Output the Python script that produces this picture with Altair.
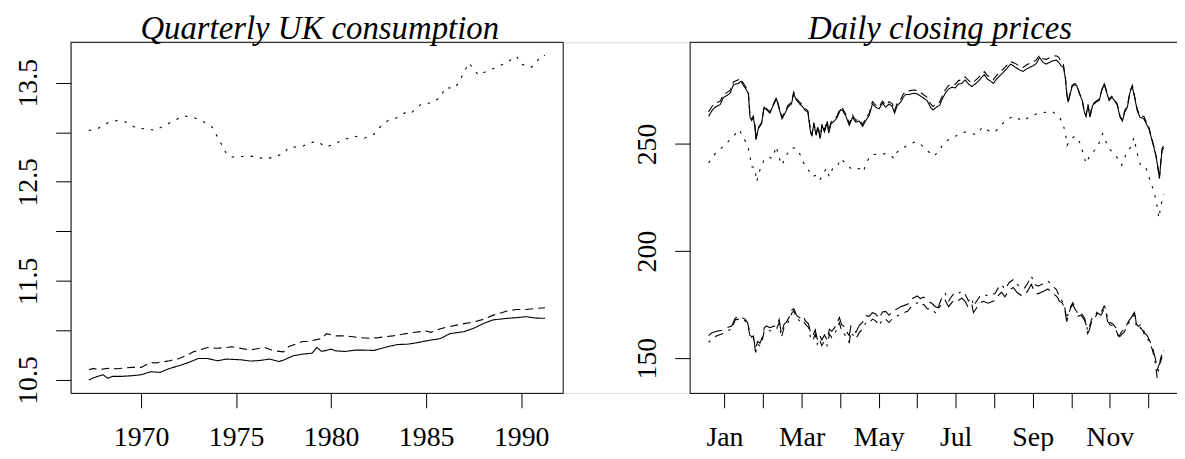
import altair as alt
import pandas as pd

# ---------------- Quarterly UK consumption (left panel) ----------------
uk_solid_years = [1967.25, 1967.5, 1968.0, 1968.25, 1968.5, 1969.0, 1969.5, 1970.0, 1970.5, 1971.0,
                  1971.5, 1972.0, 1972.5, 1973.0, 1973.5, 1974.0, 1974.5, 1975.25, 1975.75, 1976.25,
                  1976.75, 1977.25, 1977.5, 1978.0, 1978.5, 1979.0, 1979.25, 1979.5, 1980.0, 1980.25,
                  1980.75, 1981.25, 1981.75, 1982.25, 1983.0, 1983.5, 1984.0, 1984.5, 1985.0, 1985.75,
                  1986.25, 1987.0, 1987.5, 1988.0, 1988.5, 1989.25, 1989.75, 1990.25, 1990.75, 1991.25]
uk_solid = [10.500, 10.523, 10.553, 10.517, 10.537, 10.537, 10.543, 10.553, 10.583, 10.577,
            10.617, 10.644, 10.677, 10.717, 10.717, 10.694, 10.711, 10.704, 10.691, 10.697,
            10.711, 10.687, 10.701, 10.744, 10.761, 10.771, 10.828, 10.788, 10.811, 10.794,
            10.788, 10.801, 10.801, 10.798, 10.838, 10.858, 10.861, 10.875, 10.895, 10.918,
            10.968, 10.988, 11.022, 11.069, 11.106, 11.122, 11.129, 11.139, 11.125, 11.122]

uk_dashed_years = [1967.25, 1967.5, 1967.75, 1968.25, 1968.75, 1969.5, 1970.0, 1970.5, 1970.75, 1971.5,
                   1972.0, 1972.5, 1972.75, 1973.5, 1974.0, 1974.5, 1974.75, 1975.5, 1975.75, 1976.5,
                   1977.0, 1977.5, 1977.75, 1978.5, 1978.75, 1979.5, 1979.75, 1980.25, 1980.75, 1981.5,
                   1982.0, 1982.5, 1983.25, 1983.75, 1984.25, 1985.0, 1985.25, 1985.75, 1986.25, 1987.0,
                   1987.5, 1988.0, 1988.5, 1989.25, 1989.75, 1990.25, 1990.75, 1991.25]
uk_dashed = [10.604, 10.617, 10.604, 10.617, 10.614, 10.627, 10.627, 10.677, 10.671, 10.694,
             10.717, 10.758, 10.784, 10.828, 10.821, 10.828, 10.835, 10.811, 10.804, 10.828,
             10.794, 10.784, 10.835, 10.888, 10.888, 10.918, 10.968, 10.945, 10.945, 10.928,
             10.921, 10.928, 10.945, 10.961, 10.978, 10.995, 10.981, 11.018, 11.039, 11.069,
             11.085, 11.112, 11.152, 11.196, 11.212, 11.212, 11.222, 11.229]

uk_dotted_years = [1967.25, 1967.75, 1968.25, 1968.75, 1969.25, 1969.75, 1970.25, 1970.75, 1971.25, 1971.75,
                   1972.25, 1972.75, 1973.25, 1973.75, 1974.0, 1974.25, 1974.5, 1974.75, 1975.5, 1976.0,
                   1976.5, 1977.0, 1977.5, 1977.75, 1978.5, 1978.75, 1979.25, 1979.75, 1980.25, 1980.75,
                   1981.25, 1981.75, 1982.25, 1982.5, 1983.0, 1983.5, 1984.0, 1984.25, 1984.75, 1985.25,
                   1985.75, 1986.0, 1986.5, 1986.75, 1987.0, 1987.25, 1987.5, 1987.75, 1988.25, 1988.75,
                   1989.25, 1989.75, 1990.0, 1990.5, 1990.75, 1991.0, 1991.25]
uk_dotted = [13.018, 13.040, 13.096, 13.120, 13.100, 13.040, 13.035, 13.020, 13.070, 13.120,
             13.165, 13.150, 13.110, 13.050, 12.960, 12.870, 12.780, 12.750, 12.757, 12.757,
             12.730, 12.750, 12.785, 12.845, 12.858, 12.885, 12.908, 12.850, 12.890, 12.930,
             12.960, 12.940, 12.980, 13.040, 13.120, 13.150, 13.210, 13.200, 13.286, 13.296,
             13.350, 13.450, 13.443, 13.513, 13.610, 13.700, 13.637, 13.577, 13.620, 13.660,
             13.704, 13.768, 13.688, 13.653, 13.688, 13.770, 13.777]

uk_x_ticks = [1970, 1975, 1980, 1985, 1990]
uk_y_ticks = [10.5, 11.0, 11.5, 12.0, 12.5, 13.0, 13.5]
uk_y_labelled = [10.5, 11.5, 12.5, 13.5]
uk_x_domain = [1966.29, 1992.21]
uk_y_domain = [10.37, 13.908]
uk_title_x = 1979.4

# ---------------- Daily closing prices (right panel) ----------------
price_ab_days = [2.7, 5.3, 7.9, 11.8, 14.4, 17.1, 19.7, 22.3, 26.2, 28.3, 30.1, 32.2, 34.1, 35.4, 36.7,
                 38.0, 39.3, 40.1, 41.9, 44.5, 46.6, 48.4, 51.1, 53.7, 56.3, 58.4, 60.7, 62.8, 65.4, 68.1,
                 69.9, 72.0, 74.6, 77.2, 79.0, 81.1, 83.2, 84.3, 85.8, 87.7, 89.0, 90.8, 92.4, 94.2, 96.3,
                 97.6, 99.4, 102.0, 104.1, 106.8, 108.6, 111.2, 113.8, 116.4, 119.0, 121.7, 124.3, 126.9,
                 129.5, 132.1, 134.7, 137.4, 140.0, 142.6, 145.2, 147.8, 149.6, 151.7, 154.4, 156.4, 158.3,
                 160.9, 164.8, 167.4, 170.6,
                 175.3, 177.9, 180.0, 182.6, 185.2, 187.0, 189.6, 192.3, 194.9, 197.5,
                 200.1, 202.7, 205.3, 208.0, 210.6, 213.2, 215.8, 218.4, 220.5, 222.9,
                 224.9, 227.6, 230.2, 232.8, 235.4, 238.0, 241.2, 243.3, 245.9, 248.5,
                 251.1, 253.7, 256.3, 259.0, 261.6, 264.2, 266.8, 269.4, 272.0, 274.6,
                 277.3, 279.3, 281.2, 283.0, 284.6, 285.6, 286.7, 287.7, 289.8, 291.6,
                 293.5, 295.6, 297.7, 299.5, 300.8, 302.4, 303.9, 306.0, 308.6, 311.2,
                 313.3, 315.2, 317.0, 319.1, 321.2, 323.0, 325.6, 327.7, 329.6, 331.4,
                 333.5, 335.6, 337.4, 339.2, 341.3, 343.4, 346.5, 348.4, 350.5, 352.6,
                 354.4, 356.2, 357.5, 358.8, 359.6, 360.9, 362.2]
price_a = [262.9, 265.6, 267.2, 268.4, 271.8, 272.6, 273.7, 277.7, 278.3, 279.3, 277.3, 275.7, 273.4, 262.5, 261.0,
           262.5, 257.9, 252.0, 257.1, 259.5, 267.2, 266.0, 264.4, 268.0, 271.1, 266.4, 261.8, 264.1, 267.2, 268.7,
           273.4, 270.6, 268.7, 267.2, 265.6, 264.9, 255.6, 253.6, 259.5, 254.0, 257.9, 252.5, 258.7, 255.6, 260.2,
           255.1, 259.5, 260.7, 262.2, 266.0, 265.6, 262.9, 258.7, 262.5, 260.2, 260.7, 258.2, 261.0, 263.3, 268.7,
           267.2, 266.4, 269.1, 267.2, 268.7, 267.5, 264.4, 268.0, 269.5, 271.8, 273.1, 273.1, 273.7, 273.4, 272.2,
           270.3, 267.2, 265.9, 267.2, 268.0, 270.6, 273.7, 275.7, 276.5, 276.2,
           278.0, 278.3, 279.9, 278.0, 276.8, 278.0, 279.3, 281.1, 282.4, 280.3,
           279.6, 278.3, 280.3, 281.9, 283.4, 285.0, 287.3, 286.5, 285.5, 284.5,
           283.9, 285.0, 285.8, 286.5, 287.6, 290.4, 288.1, 287.3, 288.1, 288.9,
           289.2, 288.1, 286.5, 285.8, 280.3, 273.4, 269.5, 271.8, 276.8, 277.7,
           277.3, 273.4, 270.6, 264.9, 262.9, 268.0, 262.5, 268.0, 269.5, 270.3,
           274.9, 278.0, 274.2, 270.3, 271.8, 270.6, 268.0, 262.5, 260.7, 264.9,
           267.2, 274.2, 276.8, 271.8, 265.6, 262.5, 261.8, 259.5, 257.1, 252.5,
           248.6, 244.0, 239.3, 233.9, 239.3, 247.1, 248.2]
price_b = [265.0, 267.5, 269.0, 270.0, 273.0, 274.0, 275.0, 279.0, 280.0, 280.5, 278.5, 276.5, 274.0,
           263.0, 261.5, 263.0, 258.5, 252.5, 257.5, 260.0, 267.8, 266.5, 265.0, 268.5, 271.8, 267.0, 262.5,
           264.8, 268.0, 269.5, 274.2, 271.2, 269.5, 268.0, 266.5, 265.5, 256.3, 254.2, 260.0, 254.6, 258.5,
           253.4, 259.5, 256.5, 261.0, 256.0, 260.3, 261.6, 263.0, 267.0, 266.5, 263.8, 259.6, 263.4, 261.0,
           261.6, 259.1, 262.0, 264.2, 269.8, 268.2, 267.4, 270.0, 268.2, 269.8, 268.8, 265.5, 269.2, 270.8,
           273.2, 274.5, 274.8, 275.2, 275.0, 273.8,
           271.8, 268.8, 267.5, 268.9, 269.6, 272.0, 275.2, 277.3, 278.0, 277.8,
           279.6, 280.0, 281.3, 279.7, 278.5, 279.6, 281.0, 282.7, 283.8, 282.0,
           281.3, 280.0, 282.0, 283.5, 285.0, 286.6, 288.5, 288.0, 287.3, 286.3,
           285.8, 286.9, 287.6, 288.3, 289.3, 291.5, 289.8, 289.5, 290.3, 291.0,
           291.2, 290.5, 288.4, 287.0, 281.0, 273.8, 269.8, 272.3, 277.3, 278.2,
           277.8, 273.8, 271.0, 265.4, 263.2, 268.5, 263.0, 268.5, 270.0, 270.9,
           275.4, 278.4, 274.8, 270.8, 272.3, 271.1, 268.6, 263.0, 261.2, 265.5,
           267.8, 274.8, 277.4, 272.4, 266.2, 263.3, 262.8, 260.4, 257.8, 253.0,
           249.0, 244.3, 239.5, 234.0, 239.8, 247.9, 249.2]

price_c_days = [2.7, 7.9, 13.1, 17.1, 22.3, 27.0, 30.1, 33.5, 35.4, 36.7, 39.3, 40.6, 43.2, 46.3, 49.7,
                52.9, 56.3, 57.6, 60.7, 64.1, 68.6, 72.0, 74.6, 77.2, 82.4, 85.0, 87.7, 90.3, 92.9, 95.5,
                98.1, 100.7, 104.1, 107.3, 112.0, 115.1, 118.3, 121.7, 124.8, 127.7, 130.8, 134.7, 138.7,
                142.6, 146.5, 149.1, 151.7, 155.7, 159.6, 166.1, 170.0,
                176.6, 180.0, 184.4, 188.3, 192.3, 198.8, 205.3, 209.3, 214.0, 219.2, 224.4, 228.9, 234.1,
                239.3, 243.8, 251.1, 256.9, 262.1, 267.3, 274.1, 279.3, 282.5, 284.6, 285.9, 289.0, 292.4,
                295.6, 298.7, 300.8, 303.4, 306.5, 309.9, 313.9, 316.0, 319.1, 323.0, 327.0, 329.0, 332.2,
                336.1, 338.7, 341.3, 343.9, 347.9, 350.5, 353.6, 356.2, 358.3, 360.4, 362.2]
price_c = [241.2, 245.5, 248.3, 250.5, 253.6, 256.7, 253.0, 249.4, 244.0, 239.3, 239.0, 232.4, 237.8, 242.4, 244.0,
           243.2, 248.9, 244.8, 240.1, 244.8, 248.3, 247.9, 245.5, 241.7, 237.0, 234.7, 235.5, 233.1, 235.5, 238.6,
           234.7, 238.6, 239.3, 243.2, 240.1, 238.6, 237.8, 238.6, 237.0, 241.7, 244.8, 245.2, 245.1,
           245.5, 244.8, 243.2, 246.3, 247.9, 249.4, 251.0, 249.9,
           246.3, 244.3, 246.3, 250.5, 252.0, 254.0, 255.6, 255.1, 254.3, 257.9, 256.0, 255.6, 259.1,
           261.8, 262.9, 260.7, 262.9, 264.1, 264.7, 265.2, 262.9, 259.8, 254.8, 249.4, 252.5, 253.7,
           251.0, 245.5, 240.9, 244.0, 246.3, 248.6, 254.8, 251.7, 247.8, 245.5, 242.4, 240.1, 244.8,
           248.6, 252.9, 245.5, 240.1, 239.3, 234.7, 229.3, 223.9, 215.4, 222.3, 226.6]

price_de_days = [2.7, 5.3, 9.2, 13.1, 17.1, 21.0, 23.6, 26.2, 28.8, 31.4, 33.5, 35.4, 36.7, 38.0, 39.8,
                 41.4, 43.2, 45.0, 46.6, 48.4, 51.1, 53.7, 56.3, 58.4, 60.2, 62.3, 64.1, 66.7, 68.6, 70.1,
                 72.0, 74.6, 77.2, 79.0, 81.6, 83.2, 85.0, 86.9, 88.5, 90.3, 92.1, 94.2, 96.3, 98.1, 100.0,
                 102.0, 104.1, 106.0, 107.8, 109.4, 112.0, 113.8, 115.1, 117.2, 119.0, 121.7, 124.3, 126.9,
                 129.5, 132.1, 134.7, 137.4, 140.0, 142.6, 145.2, 148.6, 151.7, 154.4, 157.0, 160.1, 162.7,
                 164.8, 167.4, 170.0, 172.7, 175.3,
                 179.2, 181.8, 184.4, 187.0, 189.6, 192.3, 194.9, 197.5, 200.1, 202.7,
                 205.3, 208.0, 210.6, 211.9, 214.5, 217.1, 219.7, 223.6, 226.3, 228.9,
                 231.5, 234.1, 236.7, 240.1, 243.3, 246.4, 249.8, 252.4, 255.0, 257.6,
                 260.3, 262.9, 265.5, 268.1, 270.7, 273.3, 276.0, 277.3, 278.6, 279.9,
                 282.0, 283.8, 285.6, 287.2, 289.0, 290.3, 292.4, 294.3, 296.9, 299.5,
                 300.8, 302.1, 303.4, 305.2, 307.3, 309.9, 312.6, 315.2, 316.5, 317.8,
                 319.9, 322.2, 324.3, 326.9, 329.0, 330.9, 332.7, 334.8, 337.4, 339.2,
                 340.5, 342.1, 343.9, 345.8, 347.3, 349.2, 351.0, 353.1, 354.4, 355.7,
                 357.0, 358.3, 359.6, 360.9, 362.2]
price_d = [157.3, 158.9, 160.4, 161.2, 162.7, 163.5, 167.8, 168.2, 168.5, 167.4, 165.8, 160.4, 158.9, 159.6, 152.7,
           156.5, 155.8, 158.1, 162.7, 163.5, 162.7, 163.2, 163.5, 166.6, 159.6, 164.3, 165.1, 168.2, 171.2, 172.0,
           168.9, 167.4, 168.2, 165.8, 164.3, 159.6, 158.1, 161.2, 156.5, 158.9, 155.8, 158.1, 155.8, 161.2, 159.6,
           161.2, 163.5, 166.6, 162.7, 162.0, 158.9, 157.3, 162.3, 160.4, 158.9, 162.0, 163.5, 166.6,
           166.3, 168.2, 167.4, 165.1, 168.2, 168.2, 166.6, 168.9, 169.7, 170.5, 171.2, 172.0, 174.0,
           174.6, 175.9, 174.3, 175.1, 173.1,
           172.8, 171.2, 174.3, 178.2, 180.2, 176.7, 179.0, 180.8, 180.2, 181.3,
           179.8, 176.7, 178.2, 174.3, 176.7, 179.0, 179.8, 179.0, 179.8, 180.2,
           182.8, 184.4, 182.1, 185.2, 186.7, 184.4, 182.8, 182.8, 185.2, 188.3,
           184.4, 183.6, 184.4, 185.2, 186.0, 184.4, 182.8, 182.1, 180.5, 178.2,
           176.7, 174.3, 168.2, 172.0, 174.3, 175.9, 173.6, 170.5, 171.2, 168.9,
           166.6, 162.7, 164.3, 168.2, 168.9, 172.0, 171.2, 174.3, 172.8, 168.2,
           166.6, 165.8, 164.3, 158.9, 161.2, 162.0, 164.3, 166.6, 168.9, 171.2,
           165.1, 163.5, 164.3, 162.7, 160.4, 159.6, 157.3, 154.2, 151.1, 147.3,
           140.8, 144.9, 149.6, 151.9, 152.7]
price_e = [160.5, 161.8, 162.5, 163.0, 164.2, 165.0, 168.5, 169.5, 169.0, 168.2, 166.5, 161.5, 159.8, 160.3, 154.0,
           157.8, 157.0, 159.5, 164.0, 165.0, 164.2, 164.8, 165.0, 168.0, 161.5, 165.8, 166.8, 169.5, 172.5, 173.0,
           170.2, 168.8, 169.8, 167.5, 166.0, 162.0, 160.5, 163.2, 159.0, 161.0, 158.5, 160.8, 158.5, 163.5, 162.5,
           164.0, 166.2, 169.0, 165.5, 165.0, 162.0, 160.5, 165.0, 163.5, 162.0, 165.2, 166.8, 169.8,
           169.5, 171.2, 170.6, 168.5, 171.5, 171.8, 170.0, 172.2, 173.0, 174.0, 174.5, 175.2, 177.5,
           178.2, 179.0, 177.8, 178.5, 176.8,
           175.5, 174.0, 173.5, 175.0, 177.0, 174.0, 176.0, 177.5, 177.0, 178.0,
           176.5, 173.5, 175.0, 171.2, 173.5, 175.8, 176.5, 175.6, 176.3, 176.8,
           179.2, 180.8, 178.6, 181.7, 183.0, 180.6, 179.2, 179.4, 181.6, 184.5,
           180.8, 180.0, 180.8, 181.5, 182.3, 181.0, 179.5, 179.0, 178.0, 176.5,
           175.8, 173.5, 167.0, 171.0, 173.8, 175.0, 172.6, 169.5, 170.0, 167.8,
           165.8, 161.5, 163.0, 167.0, 168.2, 171.0, 170.0, 173.0, 172.0, 167.2,
           165.5, 165.0, 163.2, 160.0, 162.5, 163.0, 165.2, 167.5, 169.6, 172.0,
           166.2, 164.8, 165.5, 163.8, 161.5, 160.5, 158.2, 155.5, 152.5, 149.5,
           144.5, 146.5, 148.0, 150.5, 153.5]

month_tick_days = [15.2, 45.6, 76.1, 106.5, 137.0, 167.4, 197.8, 228.3, 258.7, 289.2, 319.6, 350.0]
month_tick_labels = ["Jan", "", "Mar", "", "May", "", "Jul", "", "Sep", "", "Nov", ""]
px_y_ticks = [150, 200, 250]
px_x_domain = [-12.3, 372.7]
px_y_domain = [133.75, 297.5]
px_title_x = 185.5

titles = ["Quarterly UK consumption", "Daily closing prices"]

# ---------------- build tables ----------------
uk_df = pd.concat([
    pd.DataFrame({"t": uk_solid_years, "v": uk_solid, "s": "solid"}),
    pd.DataFrame({"t": uk_dashed_years, "v": uk_dashed, "s": "dashed"}),
    pd.DataFrame({"t": uk_dotted_years, "v": uk_dotted, "s": "dotted"}),
])
px_df = pd.concat([
    pd.DataFrame({"t": price_ab_days, "v": price_a, "s": "a"}),
    pd.DataFrame({"t": price_ab_days, "v": price_b, "s": "b"}),
    pd.DataFrame({"t": price_c_days, "v": price_c, "s": "c"}),
    pd.DataFrame({"t": price_de_days, "v": price_d, "s": "d"}),
    pd.DataFrame({"t": price_de_days, "v": price_e, "s": "e"}),
])
one = pd.DataFrame({"k": [0]})

FONT = "Liberation Serif"
W, H = 1114, 353
LEFT_RANGE = [0, 496]
RIGHT_RANGE = [623.3, W]
TICK = 15
LFS = 28
TFS = 33

def xaxis(values, label_expr=None):
    kw = dict(orient="bottom", values=values, grid=False, tickSize=TICK, tickColor="black",
              domainColor="black", labelColor="black", labelFont=FONT, labelFontSize=LFS,
              labelPadding=16, labelOverlap=False, labelFlush=False, title=None, format="d")
    if label_expr:
        kw["labelExpr"] = label_expr
    return alt.Axis(**kw)

def yaxis(values, offset, label_expr=None):
    kw = dict(orient="left", values=values, grid=False, tickSize=TICK, tickColor="black",
              domainColor="black", labelColor="black", labelFont=FONT, labelFontSize=LFS,
              labelAngle=270, labelAlign="center", labelBaseline="alphabetic",
              labelPadding=19, labelOverlap=False, labelFlush=False, title=None, offset=offset)
    if label_expr:
        kw["labelExpr"] = label_expr
    return alt.Axis(**kw)

# ---- left panel ----
uk_xs = alt.Scale(domain=uk_x_domain, range=LEFT_RANGE, nice=False, zero=False)
uk_ys = alt.Scale(domain=uk_y_domain, nice=False, zero=False)
uk_lab_expr = "indexof(%s, datum.value) >= 0 ? format(datum.value, '.1f') : ''" % uk_y_labelled

uk_lines = alt.Chart(uk_df).mark_line(color="black", strokeWidth=1.1).encode(
    x=alt.X("t:Q", scale=uk_xs, axis=xaxis(uk_x_ticks)),
    y=alt.Y("v:Q", scale=uk_ys, axis=yaxis(uk_y_ticks, 0, uk_lab_expr)),
    strokeDash=alt.StrokeDash("s:N", scale=alt.Scale(domain=["solid", "dashed", "dotted"],
                                                     range=[[1, 0], [8, 5], [2.5, 7]]), legend=None),
    detail="s:N",
)
uk_top = alt.Chart(one).mark_rule(color="black", strokeWidth=1).encode(
    x=alt.datum(uk_x_domain[0]), x2=alt.datum(uk_x_domain[1]), y=alt.datum(uk_y_domain[1]))
uk_right = alt.Chart(one).mark_rule(color="black", strokeWidth=1).encode(
    x=alt.datum(uk_x_domain[1]), y=alt.datum(uk_y_domain[0]), y2=alt.datum(uk_y_domain[1]))
uk_title = alt.Chart(one).mark_text(text=titles[0], font=FONT, fontSize=TFS, fontStyle="italic",
                                    baseline="alphabetic", align="center", dy=-3, color="black").encode(
    x=alt.datum(uk_title_x), y=alt.datum(uk_y_domain[1]))
left = alt.layer(uk_lines, uk_top, uk_right, uk_title)

# ---- right panel ----
px_xs = alt.Scale(domain=px_x_domain, range=RIGHT_RANGE, nice=False, zero=False)
px_ys = alt.Scale(domain=px_y_domain, nice=False, zero=False)
month_expr = "%s[indexof(%s, datum.value)]" % (month_tick_labels, month_tick_days)

px_lines = alt.Chart(px_df).mark_line(color="black", strokeWidth=1.1).encode(
    x=alt.X("t:Q", scale=px_xs, axis=xaxis(month_tick_days, month_expr)),
    y=alt.Y("v:Q", scale=px_ys, axis=yaxis(px_y_ticks, -RIGHT_RANGE[0])),
    strokeDash=alt.StrokeDash("s:N", scale=alt.Scale(domain=["a", "b", "c", "d", "e"],
                                                     range=[[1, 0], [8, 5], [2.5, 7], [2.5, 6, 9, 6], [15, 6]]),
                              legend=None),
    detail="s:N",
)
px_top = alt.Chart(one).mark_rule(color="black", strokeWidth=1).encode(
    x=alt.datum(px_x_domain[0]), x2=alt.datum(px_x_domain[1]), y=alt.datum(px_y_domain[1]))
px_title = alt.Chart(one).mark_text(text=titles[1], font=FONT, fontSize=TFS, fontStyle="italic",
                                    baseline="alphabetic", align="center", dy=-3, color="black").encode(
    x=alt.datum(px_title_x), y=alt.datum(px_y_domain[1]))
right = alt.layer(px_lines, px_top, px_title)

chart = alt.layer(left, right).resolve_scale(
    x="independent", y="independent", strokeDash="independent"
).properties(
    width=W, height=H,
    autosize=alt.AutoSizeParams(type="none"),
    padding={"left": 63, "top": 33, "right": 0, "bottom": 57},
).configure_view(stroke=None).configure(background="white")

chart.save("out.html", embed_options={"renderer": "svg", "actions": False})
